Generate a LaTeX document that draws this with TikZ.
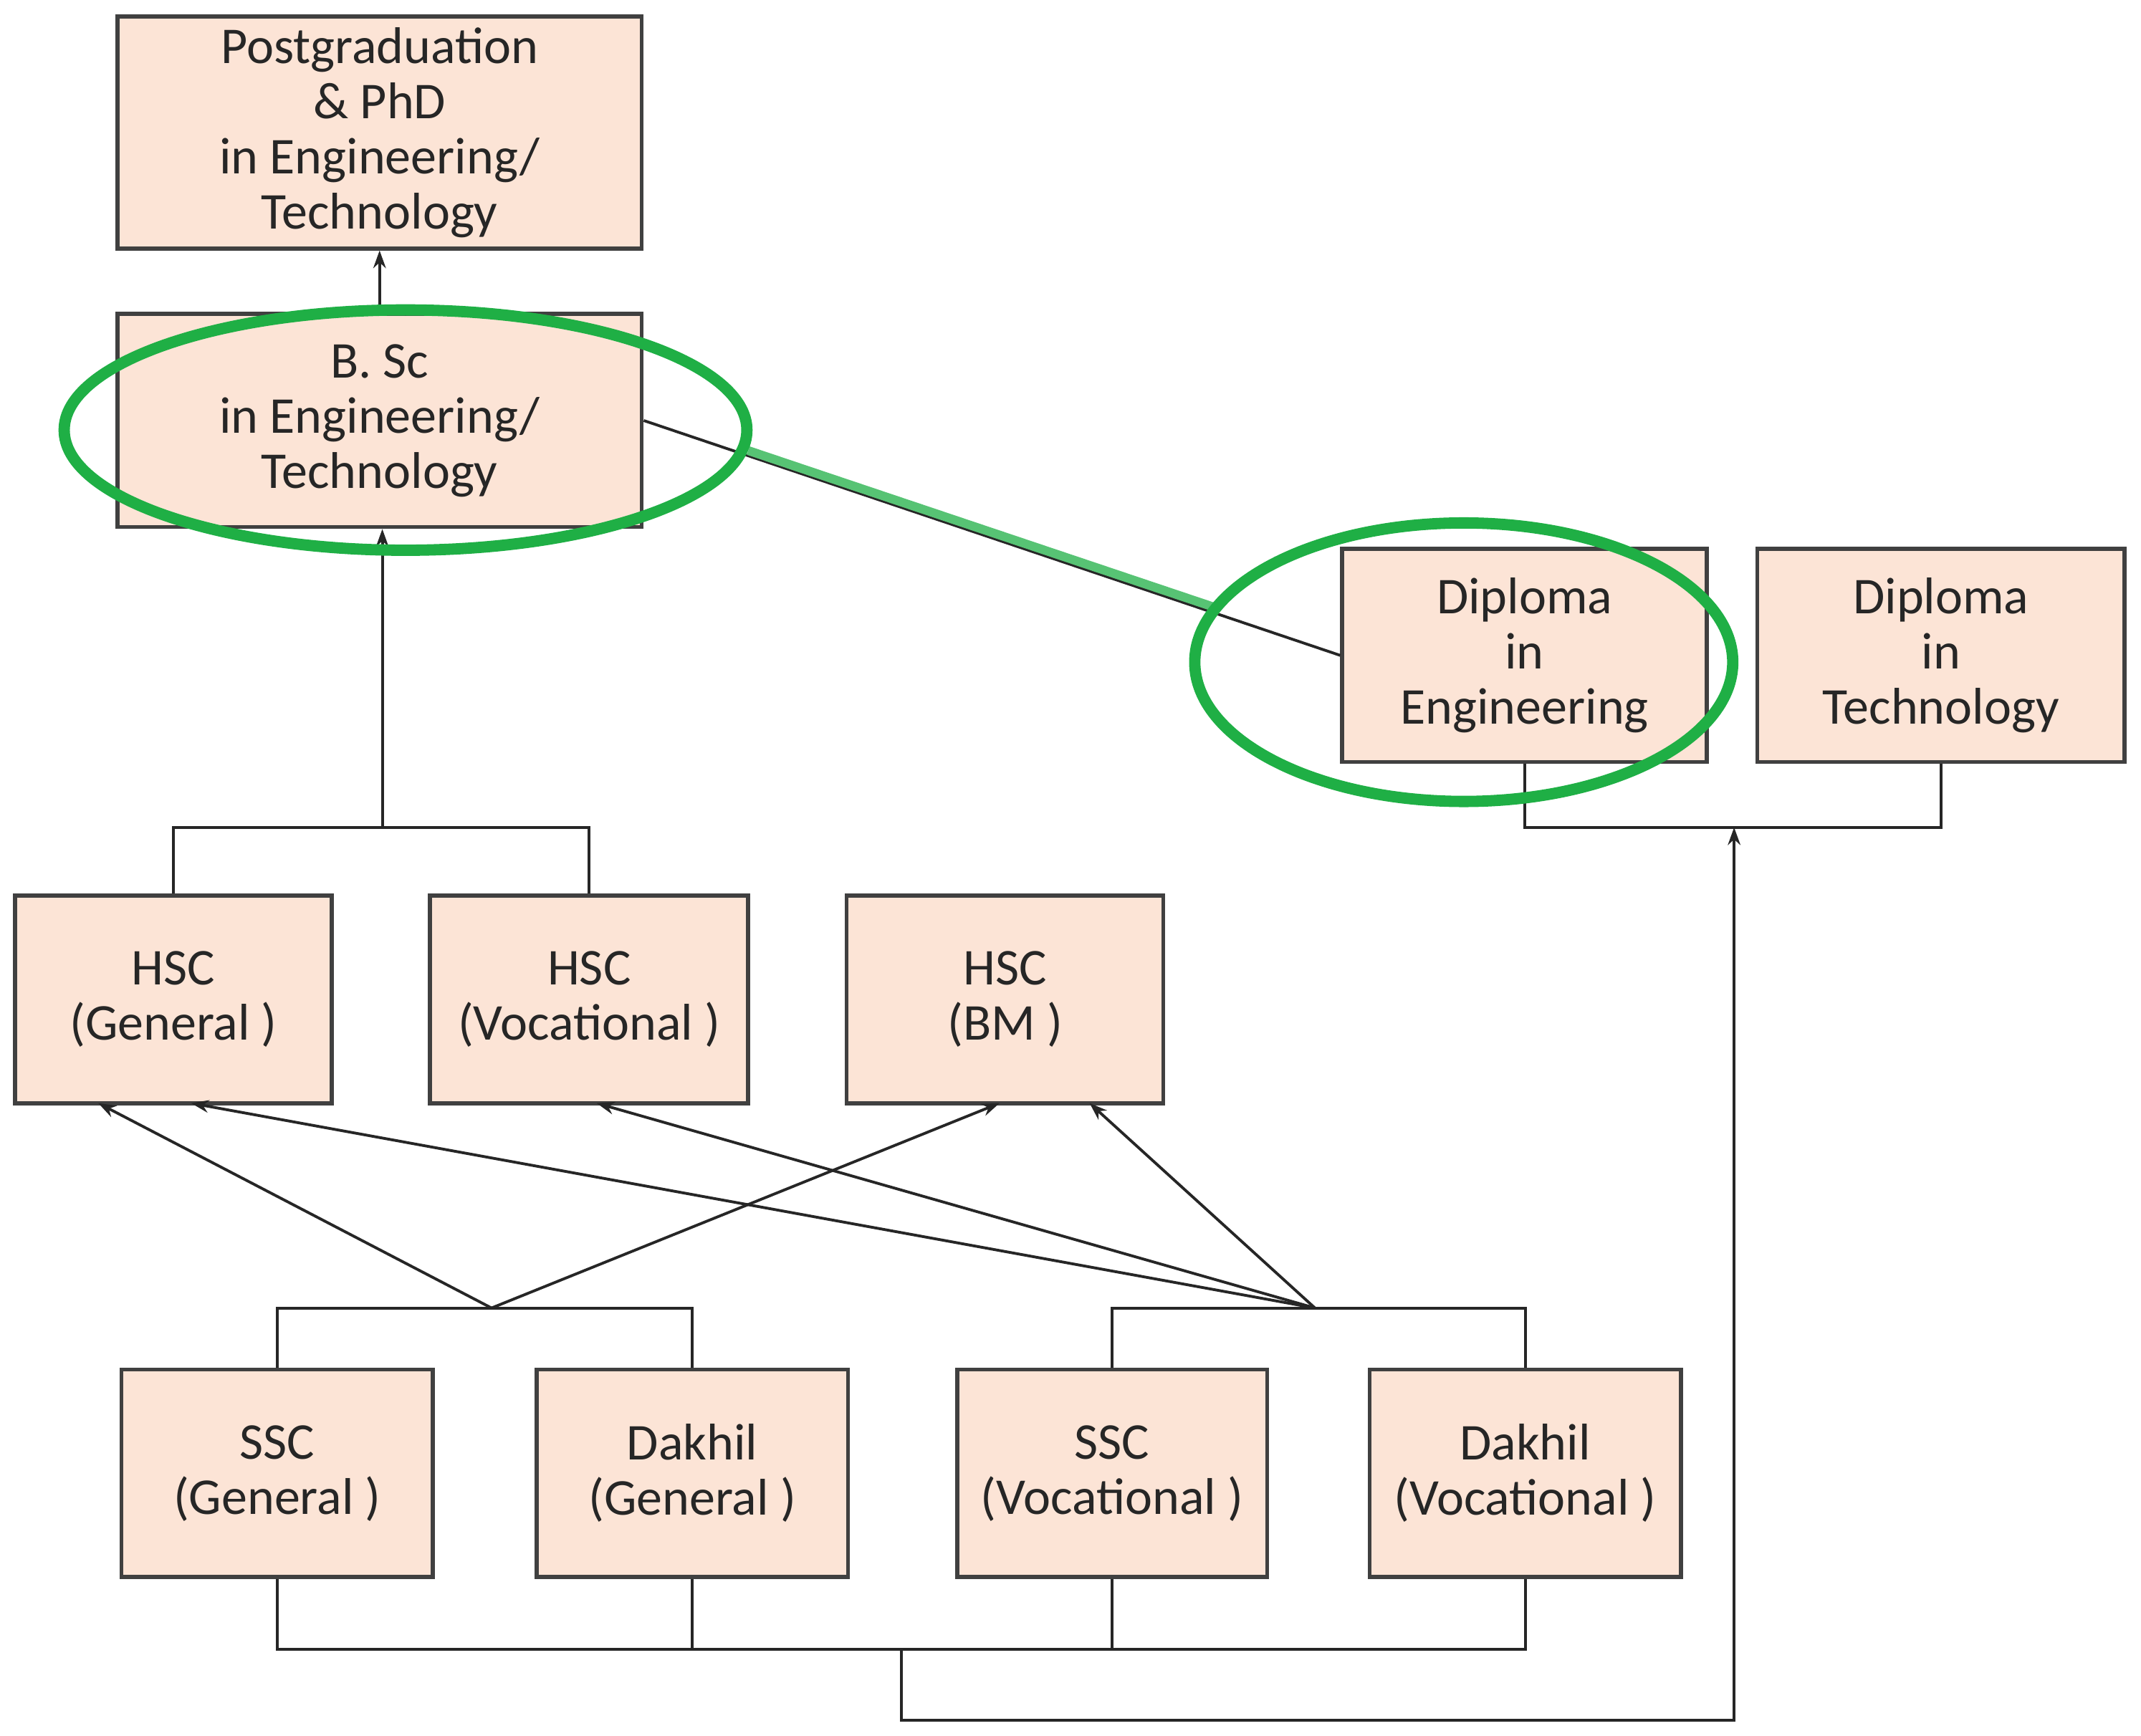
\documentclass[tikz,border=0pt]{standalone}
\usepackage{fontspec}
\setmainfont{Carlito}
\usetikzlibrary{arrows.meta,shapes.geometric}
\definecolor{peach}{HTML}{FCE4D6}
\definecolor{bord}{HTML}{404040}
\definecolor{grn}{HTML}{1FAF45}
\begin{document}
\begin{tikzpicture}[x=0.019056cm,y=-0.019056cm,
  box/.style={draw=bord,line width=1.6pt,fill=peach,inner sep=0pt,align=center,
    font=\fontsize{20.5}{21.9}\selectfont,text=black!85},
  ln/.style={draw=black!85,line width=1.1pt},
  ar/.style={ln,-{Stealth[length=7pt,width=5pt]}},
  ring/.style={draw=grn,line width=4.5pt,ellipse,inner sep=0pt}]
\useasboundingbox (0,0) rectangle (1568,1271);
\newcommand{\bx}[6]{\node[box,minimum width=(#4-#2)*0.019056cm,minimum height=(#5-#3)*0.019056cm] (#1) at ({(#2+#4)/2},{(#3+#5)/2}) {#6};}
\bx{pg}{86}{12}{470}{182}{Postgraduation\\\& PhD\\in Engineering/\\Technology}
\bx{bsc}{86}{230}{470}{386}{B. Sc\\in Engineering/\\Technology}
\bx{de}{983}{402}{1250}{558}{Diploma\\in\\Engineering}
\bx{dt}{1287}{402}{1556}{558}{Diploma\\in\\Technology}
\bx{hg}{11}{656}{243}{808}{HSC\\(General )}
\bx{hv}{315}{656}{548}{808}{HSC\\(Vocational )}
\bx{hb}{620}{656}{852}{808}{HSC\\(BM )}
\bx{sg}{89}{1003}{317}{1155}{SSC\\(General )}
\bx{dg}{393}{1003}{621}{1155}{Dakhil\\(General )}
\bx{sv}{701}{1003}{928}{1155}{SSC\\(Vocational )}
\bx{dv}{1003}{1003}{1231}{1155}{Dakhil\\(Vocational )}
\coordinate (j1) at (280,606);
\coordinate (j2) at (360,958);
\coordinate (j3) at (963,958);
\coordinate (j4) at (1270,606);
\coordinate (b1) at (660,1208);
\coordinate (b2) at (660,1260);
\coordinate (b3) at (1270,1260);
\coordinate (t1) at (72,808);
\coordinate (t2) at (732,808);
\coordinate (t3) at (140,808);
\coordinate (t4) at (437,808);
\coordinate (t5) at (798,808);
\draw[ar] (bsc.north) -- (pg.south);
\draw[ln] (hg.north) |- (j1) -| (hv.north);
\draw[ar] (j1) -- (j1 |- bsc.south);
\draw[ln] (de.west) -- (bsc.east);
\draw[ln] (de.south) |- (j4) -| (dt.south);
\draw[ln] (sg.north) |- (j2) -| (dg.north);
\draw[ln] (sv.north) |- (j3) -| (dv.north);
\draw[ln] (sg.south) |- (b1) -| (dv.south);
\draw[ln] (dg.south) -- (dg.south |- b1);
\draw[ln] (sv.south) -- (sv.south |- b1);
\draw[ar] (b1) -- (b2) -- (b3) -- (j4);
\draw[ar] (j2) -- (t1);
\draw[ar] (j2) -- (t2);
\draw[ar] (j3) -- (t3);
\draw[ar] (j3) -- (t4);
\draw[ar] (j3) -- (t5);
\coordinate (g1) at (548,330);
\coordinate (g2) at (890,445);
\draw[draw=grn!75,line width=3.5pt] (g1) -- (g2);
\node[ring,minimum width=500*0.019056cm,minimum height=176*0.019056cm] (e1) at (297,315) {};
\node[ring,minimum width=394*0.019056cm,minimum height=204*0.019056cm] (e2) at (1072,485) {};
\end{tikzpicture}
\end{document}
